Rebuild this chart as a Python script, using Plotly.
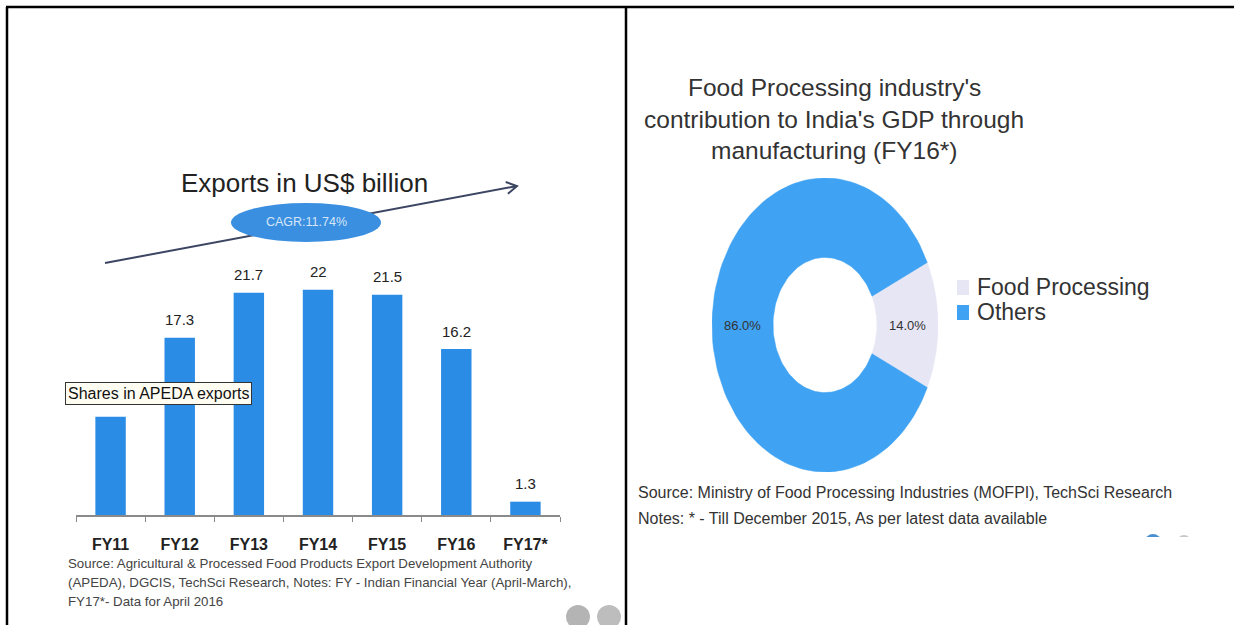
import numpy as np
import plotly.graph_objects as go

# ---- data ----
fiscal_years = ["FY11", "FY12", "FY13", "FY14", "FY15", "FY16", "FY17*"]
exports_usd_bn = [9.6, 17.3, 21.7, 22.0, 21.5, 16.2, 1.3]
value_label_shown = [False, True, True, True, True, True, True]
cagr_text = "CAGR:11.74%"

gdp_segments = ["Food Processing", "Others"]
gdp_share_pct = [14.0, 86.0]

W, H = 1234, 625
FONT = "Liberation Sans, Arial, sans-serif"
BAR_BLUE = "#2b8ce6"
DONUT_BLUE = "#3fa2f2"
DONUT_LIGHT = "#e6e6f5"


def px(x):
    return x / W


def py(y):
    return 1 - y / H


fig = go.Figure()

# ---- left panel: export bars ----
fig.add_trace(go.Bar(
    x=fiscal_years, y=exports_usd_bn,
    marker=dict(color=BAR_BLUE, line=dict(width=0)),
    width=0.44, showlegend=False, hoverinfo="x+y",
    xaxis="x", yaxis="y",
))

annotations = []
for cat, val, shown in zip(fiscal_years, exports_usd_bn, value_label_shown):
    if shown:
        annotations.append(dict(
            x=cat, y=val, xref="x", yref="y", text=f"{val:g}", showarrow=False,
            yshift=18, font=dict(family=FONT, size=15, color="#222"),
        ))

# ---- right panel: donut drawn on its own stretched axes ----
hole = 0.46
fracs = np.array(gdp_share_pct) / sum(gdp_share_pct)
start = -fracs[0] * np.pi  # first slice centred on the right-hand side
colors = [DONUT_LIGHT, DONUT_BLUE]
for name, frac, col in zip(gdp_segments, fracs, colors):
    a = np.linspace(start, start + frac * 2 * np.pi, 120)
    xs = np.concatenate([np.cos(a), hole * np.cos(a[::-1])])
    ys = np.concatenate([np.sin(a), hole * np.sin(a[::-1])])
    fig.add_trace(go.Scatter(
        x=np.append(xs, xs[0]), y=np.append(ys, ys[0]), mode="lines",
        fill="toself", fillcolor=col, line=dict(width=0.5, color=col),
        showlegend=False, hoverinfo="text", text=f"{name}: {frac*100:.1f}%",
        xaxis="x2", yaxis="y2",
    ))
    mid = start + frac * np.pi
    r = (1 + hole) / 2
    annotations.append(dict(
        x=r * np.cos(mid), y=r * np.sin(mid), xref="x2", yref="y2",
        text=f"{frac*100:.1f}%", showarrow=False,
        font=dict(family=FONT, size=13, color="#333"),
    ))
    start += frac * 2 * np.pi


# ---- texts ----
def text(x, y, s, size, color="#333", anchor="center", **kw):
    annotations.append(dict(
        x=px(x), y=py(y), xref="paper", yref="paper", text=s, showarrow=False,
        xanchor=anchor, yanchor="middle",
        font=dict(family=FONT, size=size, color=color), **kw,
    ))


text(304, 183, "Exports in US$ billion", 26, "#222")
text(306, 222, cagr_text, 12.5, "#d6e6f7")
text(158, 393, "Shares in APEDA exports", 16, "#111",
     bordercolor="#333", borderwidth=1, borderpad=2, bgcolor="#fffdf2")

text(66, 563, "Source: Agricultural &amp; Processed Food Products Export Development Authority", 13.3, "#444", "left")
text(66, 582, "(APEDA), DGCIS, TechSci Research, Notes: FY - Indian Financial Year (April-March),", 13.3, "#444", "left")
text(66, 601, "FY17*- Data for April 2016", 13.3, "#444", "left")

text(834, 87, "Food Processing industry's", 24.5, "#333")
text(834, 119, "contribution to India's GDP through", 24.5, "#333")
text(834, 150, "manufacturing (FY16*)", 24.5, "#333")

text(636, 493, "Source: Ministry of Food Processing Industries (MOFPI), TechSci Research", 16, "#333", "left")
text(636, 518, "Notes: * - Till December 2015, As per latest data available", 16, "#333", "left")

# ---- shapes: trend arrow, CAGR bubble, legend keys, table borders, nav dots ----
shapes = []
x0, y0, x1, y1 = 105, 263, 517, 186
d = np.array([x1 - x0, y1 - y0], float)
d /= np.linalg.norm(d)
heads = []
for ang in (np.radians(30), -np.radians(30)):
    rot = np.array([[np.cos(ang), -np.sin(ang)], [np.sin(ang), np.cos(ang)]])
    heads.append(np.array([x1, y1]) - 12 * rot @ d)
path = (f"M {px(x0)} {py(y0)} L {px(x1)} {py(y1)} "
        f"M {px(heads[0][0])} {py(heads[0][1])} L {px(x1)} {py(y1)} L {px(heads[1][0])} {py(heads[1][1])}")
shapes.append(dict(type="path", path=path, xref="paper", yref="paper",
                   line=dict(color="#3c4663", width=2)))
shapes.append(dict(type="circle", xref="paper", yref="paper",
                   x0=px(231), x1=px(381), y0=py(242), y1=py(203),
                   fillcolor="#3a8fe0", line=dict(width=0)))

# legend: one key square + label per donut segment
for i, (name, col) in enumerate(zip(gdp_segments, colors)):
    ly = 287 + 25 * i
    shapes.append(dict(type="rect", xref="paper", yref="paper",
                       x0=px(957), x1=px(969), y0=py(ly + 8), y1=py(ly - 7),
                       fillcolor=col, line=dict(width=0)))
    text(975, ly, name, 23, "#333", "left")

for cx, cy, r, col in [(578, 617, 12, "#b4b4b4"), (609, 617, 12, "#bdbdbd"),
                       (1153, 542, 8, "#4a8fd0"), (1184, 542, 7, "#c8c8c8")]:
    shapes.append(dict(type="circle", xref="paper", yref="paper",
                       x0=px(cx - r), x1=px(cx + r), y0=py(cy + r), y1=py(cy - r),
                       fillcolor=col, line=dict(width=0)))
shapes.append(dict(type="rect", xref="paper", yref="paper",
                   x0=px(1135), x1=px(1200), y0=py(560), y1=py(537),
                   fillcolor="white", line=dict(width=0)))

for xa, ya, xb, yb in [(6, 7, 1234, 7), (7, 7, 7, 625), (626, 7, 626, 625)]:
    shapes.append(dict(type="line", xref="paper", yref="paper",
                       x0=px(xa), x1=px(xb), y0=py(ya), y1=py(yb),
                       line=dict(color="black", width=2.5)))

cx, cy, rx, ry = 825, 325, 113, 147

fig.update_layout(
    width=W, height=H, margin=dict(l=0, r=0, t=0, b=0),
    paper_bgcolor="white", plot_bgcolor="rgba(0,0,0,0)",
    font=dict(family=FONT, color="#333"),
    xaxis=dict(domain=[px(76), px(560)], type="category", range=[-0.5, 6.5],
               showline=True, linecolor="#8a8a8a", linewidth=1.5,
               ticks="outside", tickson="boundaries", ticklen=5, tickcolor="#8a8a8a",
               ticklabelstandoff=14,
               tickfont=dict(family=FONT, size=16, color="#222", weight="bold"),
               showgrid=False, zeroline=False, fixedrange=True),
    yaxis=dict(domain=[py(515), py(259)], range=[0, 25], visible=False, fixedrange=True),
    xaxis2=dict(domain=[px(cx - rx), px(cx + rx)], range=[-1, 1], visible=False,
                anchor="y2", fixedrange=True),
    yaxis2=dict(domain=[py(cy + ry), py(cy - ry)], range=[-1, 1], visible=False,
                anchor="x2", fixedrange=True),
    showlegend=False,
    annotations=annotations, shapes=shapes, bargap=0.56,
)

fig.write_html("out.html")
